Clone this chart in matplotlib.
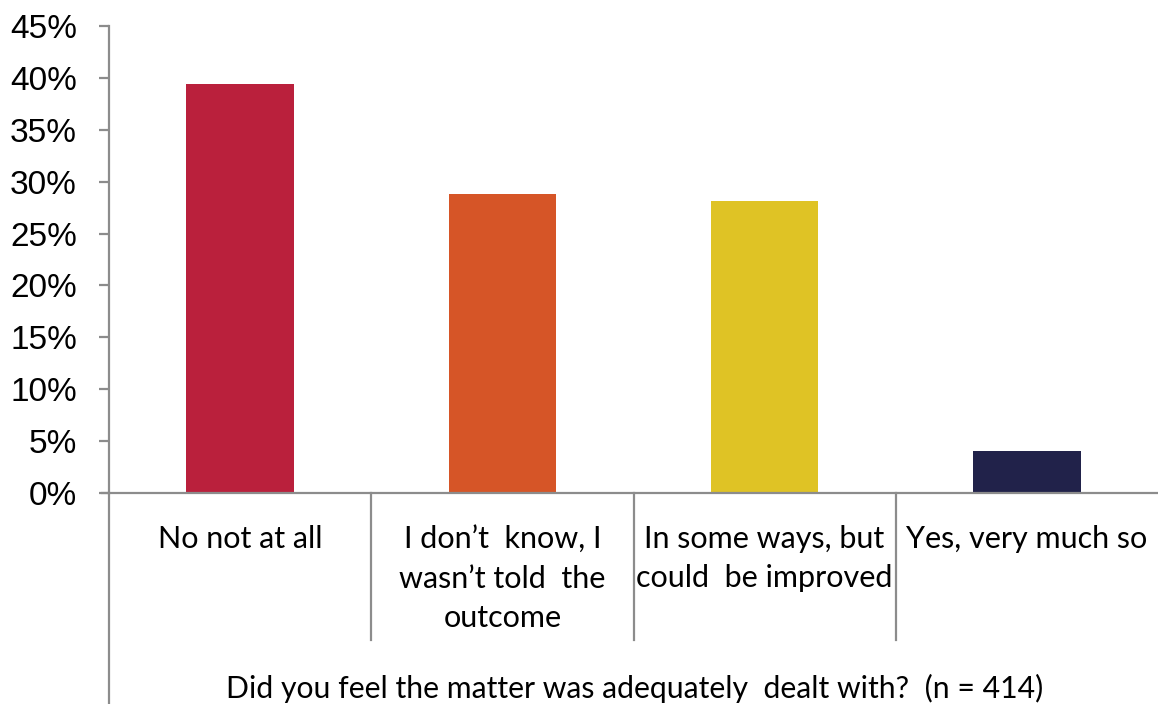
import matplotlib
matplotlib.use("Agg")
import matplotlib.pyplot as plt
from matplotlib.ticker import MultipleLocator, FuncFormatter
import matplotlib.transforms as mtransforms

categories = [
    "No not at all",
    "I don\u2019t  know, I\nwasn\u2019t told  the\noutcome",
    "In some ways, but\ncould  be improved",
    "Yes, very much so",
]
values = [39.4, 28.8, 28.1, 4.0]
colors = ["#BA203C", "#D65527", "#DFC325", "#21224A"]
axis_title = "Did you feel the matter was adequately  dealt with?  (n = 414)"

W, H = 1158, 704
fig = plt.figure(figsize=(W / 100, H / 100), dpi=100)
ax = fig.add_axes([109 / W, 211 / H, 1 - 109 / W, (493 - 26) / H])

x = list(range(len(values)))
ax.bar(x, values, width=0.41, color=colors, zorder=2)

ax.set_xlim(-0.5, 3.5)
ax.set_ylim(0, 45)
ax.yaxis.set_major_locator(MultipleLocator(5))
ax.yaxis.set_major_formatter(FuncFormatter(lambda v, p: f"{v:.0f}%"))

grey = "#8C8C8C"
for side in ("top", "right"):
    ax.spines[side].set_visible(False)
ax.spines["left"].set_color(grey)
ax.spines["left"].set_linewidth(1.6)
ax.spines["bottom"].set_color(grey)
ax.spines["bottom"].set_linewidth(1.6)
ax.spines["bottom"].set_zorder(3)

ax.tick_params(axis="y", direction="out", length=7, width=1.6, color=grey,
               labelsize=24, pad=16, labelcolor="black")
ax.set_xticks([])
for lbl in ax.get_yticklabels():
    lbl.set_fontfamily("Liberation Sans")

# small stub of the category axis to the left of the value axis
px = mtransforms.blended_transform_factory(fig.transFigure, ax.transData)
ax.plot([102 / W, 109 / W], [0, 0], color=grey, lw=1.6, transform=px, clip_on=False)

# category divider lines below the axis
trans = mtransforms.blended_transform_factory(ax.transData, fig.transFigure)
for d in [0.5, 1.5, 2.5]:
    ax.plot([d, d], [1 - 493 / H, 1 - 640 / H], color=grey, lw=1.6,
            transform=trans, clip_on=False)
# value axis line continues to the bottom edge
ax.plot([-0.5, -0.5], [1 - 493 / H, 0], color=grey, lw=1.6,
        transform=trans, clip_on=False)

label_font = "Lato"
for xi, lab in zip(x, categories):
    ax.text(xi, 1 - 525 / H, lab, transform=trans, ha="center", va="top",
            fontsize=22, family=label_font, linespacing=1.5)

fig.text((109 + 1161) / 2 / W, 1 - 688 / H, axis_title, ha="center", va="center",
         fontsize=21.7, family=label_font)

fig.savefig("out.png", dpi=100, facecolor="white")
